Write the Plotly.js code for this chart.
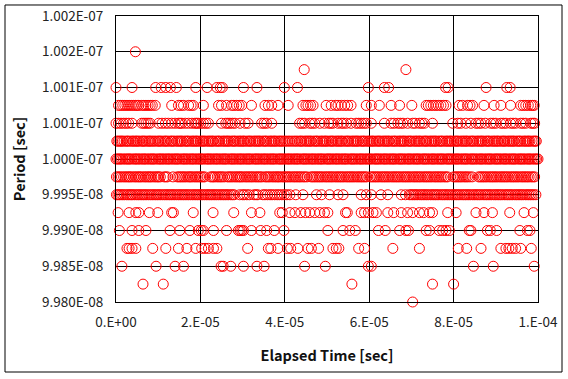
<!DOCTYPE html>
<html>
<head>
<meta charset="utf-8">
<script src="https://cdn.plot.ly/plotly-3.0.1.min.js"></script>
<style>
html,body{margin:0;padding:0;background:#fff;}
#chart{width:568px;height:379px;}
</style>
</head>
<body>
<div id="chart"></div>
<script>
// Period levels (sec) and elapsed times (microseconds) at which each level occurs
const level_10015 = 1.0015e-7;
const t_10015 = [4.6];
const level_100125 = 1.00125e-7;
const t_100125 = [44.6, 68.7];
const level_1001 = 1.001e-7;
const t_1001 = [0, 3.8, 9.4, 10.7, 11.8, 12.9, 14.3, 18.9, 21.6, 23.9, 24.7, 25.2, 30.2, 33.4, 39.9, 43.0, 59.8, 63.6, 64.6, 78.1, 78.7, 87.7, 92.6, 93.4];
const level_100075 = 1.00075e-7;
const t_100075 = [0.6, 1.1, 1.6, 2.1, 2.6, 3.1, 3.6, 4.1, 4.6, 5.0, 5.4, 6.1, 6.6, 7.1, 7.6, 8.1, 8.6, 9.3, 13.2, 14.8, 15.4, 16.0, 17.2, 17.8, 18.3, 20.7, 24.3, 25.0, 26.2, 27.4, 27.9, 28.6, 29.2, 29.8, 32.1, 35.3, 36.1, 36.9, 38.4, 40.8, 44.3, 45.0, 45.5, 46.1, 46.7, 49.8, 51.0, 52.0, 52.6, 53.4, 54.2, 54.9, 55.7, 59.3, 60.5, 62.4, 65.2, 67.2, 70.1, 73.5, 74.0, 74.6, 75.2, 75.8, 76.4, 77.0, 77.6, 78.2, 81.3, 82.1, 83.3, 83.9, 84.5, 87.2, 89.6, 91.2, 93.5, 95.9, 96.5, 97.1, 97.7, 98.3, 98.7, 99.1];
const level_10005 = 1.0005e-7;
const t_10005 = [0.0, 0.6, 1.2, 1.8, 2.4, 3.0, 3.8, 6.1, 6.6, 7.1, 7.6, 8.1, 10.1, 10.9, 11.7, 12.4, 13.2, 14.0, 14.8, 15.2, 15.6, 16.4, 17.2, 18.0, 18.7, 19.1, 19.5, 20.1, 20.7, 21.3, 21.9, 25.0, 26.0, 26.5, 27.0, 27.6, 28.2, 29.4, 30.6, 31.3, 34.5, 35.1, 35.7, 36.9, 43.5, 44.1, 44.7, 45.9, 46.5, 47.1, 48.3, 49.4, 50.4, 50.9, 51.4, 52.6, 53.4, 53.9, 54.6, 55.7, 56.9, 57.5, 58.1, 58.7, 59.3, 60.5, 63.6, 65.2, 65.9, 66.8, 67.4, 68.0, 69.1, 70.3, 70.9, 71.9, 72.5, 73.1, 75.0, 79.8, 81.0, 81.7, 82.9, 84.1, 85.3, 85.9, 86.5, 87.5, 88.8, 89.4, 90.0, 91.2, 91.8, 92.4, 93.5, 94.1, 94.7, 95.9, 96.5, 97.1, 98.3, 98.8, 99.2];
const level_100025 = 1.00025e-7;
const t_100025 = [0.2, 0.5, 0.9, 1.2, 1.5, 1.9, 2.4, 2.7, 3.0, 3.5, 3.9, 4.2, 4.6, 4.9, 5.2, 5.6, 6.1, 6.4, 6.7, 7.1, 7.6, 7.9, 8.2, 8.6, 9.0, 9.4, 9.9, 10.2, 10.5, 10.9, 11.4, 11.7, 12.0, 12.4, 12.9, 13.2, 13.5, 13.9, 14.4, 14.7, 15.1, 15.4, 15.7, 16.2, 16.6, 16.9, 17.2, 17.7, 18.1, 18.4, 18.8, 19.1, 19.4, 19.9, 20.3, 20.6, 20.9, 21.3, 21.8, 22.1, 22.5, 22.8, 23.1, 23.6, 24.0, 24.3, 24.6, 25.1, 25.5, 25.8, 26.2, 26.5, 26.8, 27.3, 27.7, 28.0, 28.3, 28.8, 29.2, 29.5, 29.9, 30.2, 30.5, 31.0, 31.4, 31.7, 32.0, 32.5, 32.9, 33.2, 33.6, 33.9, 34.2, 34.7, 35.1, 35.4, 35.7, 36.2, 36.6, 36.9, 37.3, 37.6, 37.9, 38.4, 38.8, 39.1, 39.5, 39.9, 40.3, 40.8, 41.2, 41.7, 42.2, 42.6, 43.0, 43.5, 43.8, 44.1, 44.6, 45.0, 45.3, 45.7, 46.0, 46.3, 46.8, 47.2, 47.5, 47.8, 48.3, 48.7, 49.0, 49.4, 49.7, 50.0, 50.5, 50.9, 51.2, 51.5, 52.0, 52.4, 52.7, 53.1, 53.4, 53.7, 54.2, 54.6, 54.9, 55.2, 55.7, 56.1, 56.4, 56.8, 57.1, 57.4, 57.9, 58.3, 58.6, 58.9, 59.4, 59.8, 60.1, 60.5, 60.8, 61.1, 61.6, 62.0, 62.3, 62.6, 63.1, 63.5, 63.8, 64.2, 64.5, 64.8, 65.3, 65.7, 66.0, 66.3, 66.8, 67.2, 67.5, 67.9, 68.2, 68.5, 69.0, 69.4, 69.7, 70.0, 70.5, 70.9, 71.2, 71.6, 71.9, 72.2, 72.7, 73.1, 73.4, 73.7, 74.2, 74.6, 74.9, 75.3, 75.6, 75.9, 76.4, 76.8, 77.1, 77.4, 77.9, 78.3, 78.6, 79.0, 79.3, 79.6, 80.1, 80.5, 80.8, 81.1, 81.6, 82.0, 82.3, 82.7, 83.0, 83.3, 83.8, 84.2, 84.5, 84.8, 85.3, 85.7, 86.0, 86.4, 86.7, 87.0, 87.5, 87.9, 88.2, 88.5, 89.0, 89.4, 89.7, 90.1, 90.4, 90.7, 91.2, 91.6, 91.9, 92.2, 92.7, 93.1, 93.4, 93.8, 94.1, 94.4, 94.9, 95.3, 95.6, 95.9, 96.4, 96.8, 97.1, 97.5, 97.8, 98.1, 98.6, 99.0, 99.3, 99.6];
const level_1000 = 1.0e-7;
const t_1000 = [0.0, 0.35, 0.7, 1.0, 1.3, 1.7, 2.1, 2.45, 2.8, 3.1, 3.4, 3.85, 4.3, 4.6, 4.9, 5.25, 5.6, 6.0, 6.4, 6.7, 7.0, 7.4, 7.8, 8.15, 8.5, 8.8, 9.1, 9.55, 10.0, 10.3, 10.6, 10.95, 11.3, 11.7, 12.1, 12.4, 12.7, 13.1, 13.5, 13.85, 14.2, 14.5, 14.8, 15.25, 15.7, 16.0, 16.3, 16.65, 17.0, 17.4, 17.8, 18.1, 18.4, 18.8, 19.2, 19.55, 19.9, 20.2, 20.5, 20.95, 21.4, 21.7, 22.0, 22.35, 22.7, 23.1, 23.5, 23.8, 24.1, 24.5, 24.9, 25.25, 25.6, 25.9, 26.2, 26.65, 27.1, 27.4, 27.7, 28.05, 28.4, 28.8, 29.2, 29.5, 29.8, 30.2, 30.6, 30.95, 31.3, 31.6, 31.9, 32.35, 32.8, 33.1, 33.4, 33.75, 34.1, 34.5, 34.9, 35.2, 35.5, 35.9, 36.3, 36.65, 37.0, 37.3, 37.6, 38.05, 38.5, 38.8, 39.1, 39.45, 39.8, 40.2, 40.6, 40.9, 41.2, 41.6, 42.0, 42.35, 42.7, 43.0, 43.3, 43.75, 44.2, 44.5, 44.8, 45.15, 45.5, 45.9, 46.3, 46.6, 46.9, 47.3, 47.7, 48.05, 48.4, 48.7, 49.0, 49.45, 49.9, 50.2, 50.5, 50.85, 51.2, 51.6, 52.0, 52.3, 52.6, 53.0, 53.4, 53.75, 54.1, 54.4, 54.7, 55.15, 55.6, 55.9, 56.2, 56.55, 56.9, 57.3, 57.7, 58.0, 58.3, 58.7, 59.1, 59.45, 59.8, 60.1, 60.4, 60.85, 61.3, 61.6, 61.9, 62.25, 62.6, 63.0, 63.4, 63.7, 64.0, 64.4, 64.8, 65.15, 65.5, 65.8, 66.1, 66.55, 67.0, 67.3, 67.6, 67.95, 68.3, 68.7, 69.1, 69.4, 69.7, 70.1, 70.5, 70.85, 71.2, 71.5, 71.8, 72.25, 72.7, 73.0, 73.3, 73.65, 74.0, 74.4, 74.8, 75.1, 75.4, 75.8, 76.2, 76.55, 76.9, 77.2, 77.5, 77.95, 78.4, 78.7, 79.0, 79.35, 79.7, 80.1, 80.5, 80.8, 81.1, 81.5, 81.9, 82.25, 82.6, 82.9, 83.2, 83.65, 84.1, 84.4, 84.7, 85.05, 85.4, 85.8, 86.2, 86.5, 86.8, 87.2, 87.6, 87.95, 88.3, 88.6, 88.9, 89.35, 89.8, 90.1, 90.4, 90.75, 91.1, 91.5, 91.9, 92.2, 92.5, 92.9, 93.3, 93.65, 94.0, 94.3, 94.6, 95.05, 95.5, 95.8, 96.1, 96.45, 96.8, 97.2, 97.6, 97.9, 98.2, 98.6, 99.0, 99.35, 99.7, 100.0];
const level_99975 = 0.99975e-7;
const t_99975 = [0.1, 0.5, 0.9, 1.3, 1.8, 2.2, 2.6, 3.0, 3.3, 3.7, 4.2, 4.6, 5.0, 5.4, 5.7, 6.1, 6.6, 7.0, 7.4, 7.8, 8.1, 8.5, 9.0, 9.4, 9.8, 10.1, 10.5, 11.4, 11.8, 12.2, 13.5, 14.5, 14.9, 15.3, 15.7, 16.1, 16.5, 17.0, 17.4, 17.7, 18.1, 18.6, 19.0, 19.4, 19.8, 20.2, 20.6, 21.0, 22.4, 22.8, 23.1, 23.5, 24.0, 24.4, 24.8, 25.2, 25.7, 26.4, 26.8, 27.2, 27.6, 28.1, 28.5, 28.9, 29.3, 29.6, 30.0, 30.5, 30.9, 31.3, 31.7, 32.1, 32.5, 33.0, 33.4, 33.8, 34.2, 34.6, 35.3, 35.7, 36.1, 36.5, 37.0, 37.4, 37.8, 38.2, 38.5, 38.9, 39.4, 39.8, 40.2, 40.6, 41.0, 41.4, 41.9, 42.3, 42.7, 43.1, 43.5, 43.9, 44.4, 44.8, 45.3, 46.2, 46.6, 47.0, 47.4, 47.8, 48.2, 48.6, 49.0, 49.5, 49.9, 50.3, 50.7, 51.1, 51.5, 52.0, 52.4, 52.8, 53.2, 53.6, 54.0, 54.5, 54.9, 55.3, 55.7, 56.1, 56.5, 57.0, 57.4, 57.8, 58.2, 58.6, 59.0, 59.4, 60.3, 60.7, 61.1, 61.5, 61.9, 62.3, 62.8, 63.2, 63.6, 64.0, 64.4, 64.8, 65.3, 65.7, 66.1, 66.5, 66.9, 67.3, 67.8, 68.2, 68.6, 69.0, 69.4, 69.8, 70.3, 70.7, 71.1, 71.5, 71.9, 72.3, 72.8, 73.2, 73.6, 74.0, 74.4, 74.8, 75.3, 75.7, 76.1, 76.5, 76.9, 77.3, 77.8, 78.2, 78.6, 80.0, 80.4, 80.8, 81.2, 81.6, 82.0, 82.5, 82.9, 83.3, 83.8, 84.4, 85.9, 86.3, 86.7, 87.1, 87.5, 87.9, 88.4, 88.8, 89.2, 89.6, 90.0, 90.4, 90.9, 91.3, 91.7, 92.1, 92.5, 92.9, 93.4, 93.8, 94.2, 94.6, 95.0, 95.4, 95.9, 96.3, 96.7, 97.1, 97.5, 97.9, 98.4, 98.8, 99.2];
const level_9995 = 0.9995e-7;
const t_9995 = [0.1, 0.45, 0.8, 1.2, 1.6, 2.0, 2.5, 2.9, 3.3, 3.65, 4.0, 4.45, 4.9, 5.3, 5.7, 6.1, 6.5, 6.9, 7.3, 7.75, 8.2, 8.6, 9.0, 9.4, 9.8, 10.2, 10.6, 11.05, 11.5, 11.9, 12.3, 12.7, 13.1, 13.5, 13.9, 14.35, 14.8, 15.2, 15.6, 16.0, 16.4, 16.8, 17.2, 17.65, 18.1, 18.5, 18.9, 19.3, 19.7, 20.1, 20.5, 20.95, 21.4, 21.8, 22.2, 22.6, 23.0, 23.4, 23.8, 24.25, 24.7, 25.1, 25.5, 25.9, 26.3, 26.7, 27.2, 27.6, 28.0, 29.3, 30.0, 30.4, 31.0, 31.6, 32.7, 33.2, 33.6, 34.8, 35.3, 35.9, 36.5, 37.0, 37.6, 38.2, 38.7, 39.3, 39.9, 40.5, 41.2, 42.6, 44.3, 47.5, 48.7, 50.6, 52.6, 53.8, 58.1, 59.3, 60.5, 62.8, 64.4, 67.6, 68.6, 69.5, 69.9, 70.3, 70.7, 71.1, 71.5, 72.0, 72.4, 72.8, 73.2, 73.6, 74.0, 74.5, 74.9, 75.3, 75.7, 76.1, 76.5, 77.0, 77.4, 77.8, 78.2, 78.6, 79.0, 79.5, 79.9, 80.3, 80.7, 81.1, 81.5, 82.0, 82.4, 82.8, 83.2, 83.6, 84.0, 84.5, 84.9, 85.3, 85.7, 86.1, 86.5, 87.0, 87.4, 87.8, 88.2, 88.6, 89.0, 89.5, 89.9, 90.3, 90.7, 91.1, 91.5, 92.0, 92.4, 92.8, 93.2, 93.6, 94.0, 94.5, 94.9, 95.3, 95.7, 96.1, 96.5, 97.0, 97.4, 97.8, 98.2, 98.6, 99.0, 99.5];
const level_99925 = 0.99925e-7;
const t_99925 = [0.5, 3.1, 4.7, 5.4, 7.9, 9.9, 13.2, 13.6, 18.3, 23.0, 27.9, 32.1, 34.1, 38.8, 39.4, 41.2, 42.4, 43.8, 44.9, 45.9, 47.1, 48.3, 49.4, 50.2, 54.4, 54.8, 58.1, 58.9, 59.8, 60.9, 61.7, 64.4, 65.8, 67.6, 69.1, 70.3, 71.9, 72.9, 74.3, 75.0, 78.6, 80.6, 85.3, 87.2, 89.2, 93.3, 96.7, 98.9];
const level_9990 = 0.999e-7;
const t_9990 = [0.8, 3.8, 5.4, 7.1, 12.8, 15.1, 17.5, 19.5, 20.2, 20.7, 23.1, 26.2, 29.0, 29.4, 29.8, 30.2, 32.1, 34.3, 35.7, 37.5, 39.8, 50.2, 53.8, 55.4, 56.7, 62.2, 63.8, 67.2, 68.7, 69.3, 73.5, 74.3, 76.6, 77.4, 78.2, 79.0, 83.7, 84.1, 88.0, 88.7, 90.2, 95.7, 97.5, 98.1];
const level_99875 = 0.99875e-7;
const t_99875 = [2.6, 3.1, 3.8, 4.7, 8.7, 11.8, 14.8, 16.8, 18.9, 20.3, 21.1, 21.9, 23.1, 23.9, 31.2, 36.1, 36.7, 38.4, 40.6, 41.4, 43.1, 45.5, 46.3, 48.0, 51.4, 52.2, 52.8, 57.5, 58.9, 65.6, 71.9, 81.1, 83.1, 86.5, 91.2, 92.4, 93.1, 93.9, 94.7, 95.9, 98.4];
const level_9985 = 0.9985e-7;
const t_9985 = [1.4, 9.5, 14.0, 16.0, 24.9, 25.4, 27.2, 30.2, 33.4, 35.1, 44.7, 49.6, 59.8, 60.5, 84.7, 89.4, 99.1];
const level_99825 = 0.99825e-7;
const t_99825 = [6.4, 11.2, 55.9, 75.0, 80.0];
const level_9980 = 0.998e-7;
const t_9980 = [70.3];

const yTickVals = [9.980e-8, 9.985e-8, 9.990e-8, 9.995e-8, 1.0000e-7, 1.0005e-7, 1.0010e-7, 1.0015e-7, 1.0020e-7];
const yTickText = ["9.980E-08", "9.985E-08", "9.990E-08", "9.995E-08", "1.000E-07", "1.001E-07", "1.001E-07", "1.002E-07", "1.002E-07"];
const xTickVals = [0, 2e-5, 4e-5, 6e-5, 8e-5, 1e-4];
const xTickText = ["0.E+00", "2.E-05", "4.E-05", "6.E-05", "8.E-05", "1.E-04"];

const rows = [
  [level_10015, t_10015], [level_100125, t_100125], [level_1001, t_1001],
  [level_100075, t_100075], [level_10005, t_10005], [level_100025, t_100025],
  [level_1000, t_1000], [level_99975, t_99975], [level_9995, t_9995],
  [level_99925, t_99925], [level_9990, t_9990], [level_99875, t_99875],
  [level_9985, t_9985], [level_99825, t_99825], [level_9980, t_9980]
];
const xs = [], ys = [];
rows.forEach(([lev, ts]) => ts.forEach(t => { xs.push(t * 1e-6); ys.push(lev); }));

const font = "'Noto Sans CJK KR', 'Noto Sans', sans-serif";

const trace = {
  x: xs, y: ys, type: 'scatter', mode: 'markers', cliponaxis: false,
  marker: {symbol: 'circle-open', size: 10, color: '#ff0000', line: {width: 1, color: '#ff0000'}},
  hoverinfo: 'skip', showlegend: false
};

const layout = {
  width: 568, height: 379,
  margin: {l: 116, r: 30, t: 16, b: 77},
  paper_bgcolor: '#ffffff', plot_bgcolor: '#ffffff',
  font: {family: font, size: 13.5, color: '#222'},
  xaxis: {
    range: [0, 1e-4], tickmode: 'array', tickvals: xTickVals, ticktext: xTickText,
    showgrid: true, gridcolor: '#000', gridwidth: 1, zeroline: false,
    showline: true, linecolor: '#000', linewidth: 1, mirror: true,
    ticks: '', ticklabelstandoff: 8,
    tickfont: {family: font, size: 13.5, color: '#222'},
    title: {text: 'Elapsed Time [sec]', font: {family: font, size: 14.5, color: '#111', weight: 'bold'}, standoff: 20},
    automargin: false
  },
  yaxis: {
    range: [9.98e-8, 1.002e-7], tickmode: 'array', tickvals: yTickVals, ticktext: yTickText,
    showgrid: true, gridcolor: '#000', gridwidth: 1, zeroline: false,
    showline: true, linecolor: '#000', linewidth: 1, mirror: true,
    ticks: '', ticklabelstandoff: 9,
    tickfont: {family: font, size: 13.5, color: '#222'},
    title: {text: 'Period [sec]', font: {family: font, size: 14.5, color: '#111', weight: 'bold'}, standoff: 12},
    automargin: false
  },
  shapes: [{
    type: 'rect', xref: 'paper', yref: 'paper',
    x0: -0.263, x1: 1.0569, y0: -0.2448, y1: 1.0385,
    line: {color: '#000', width: 1}, fillcolor: 'rgba(0,0,0,0)', layer: 'below'
  }]
};

Plotly.newPlot('chart', [trace], layout, {displayModeBar: false, staticPlot: true});
</script>
</body>
</html>
